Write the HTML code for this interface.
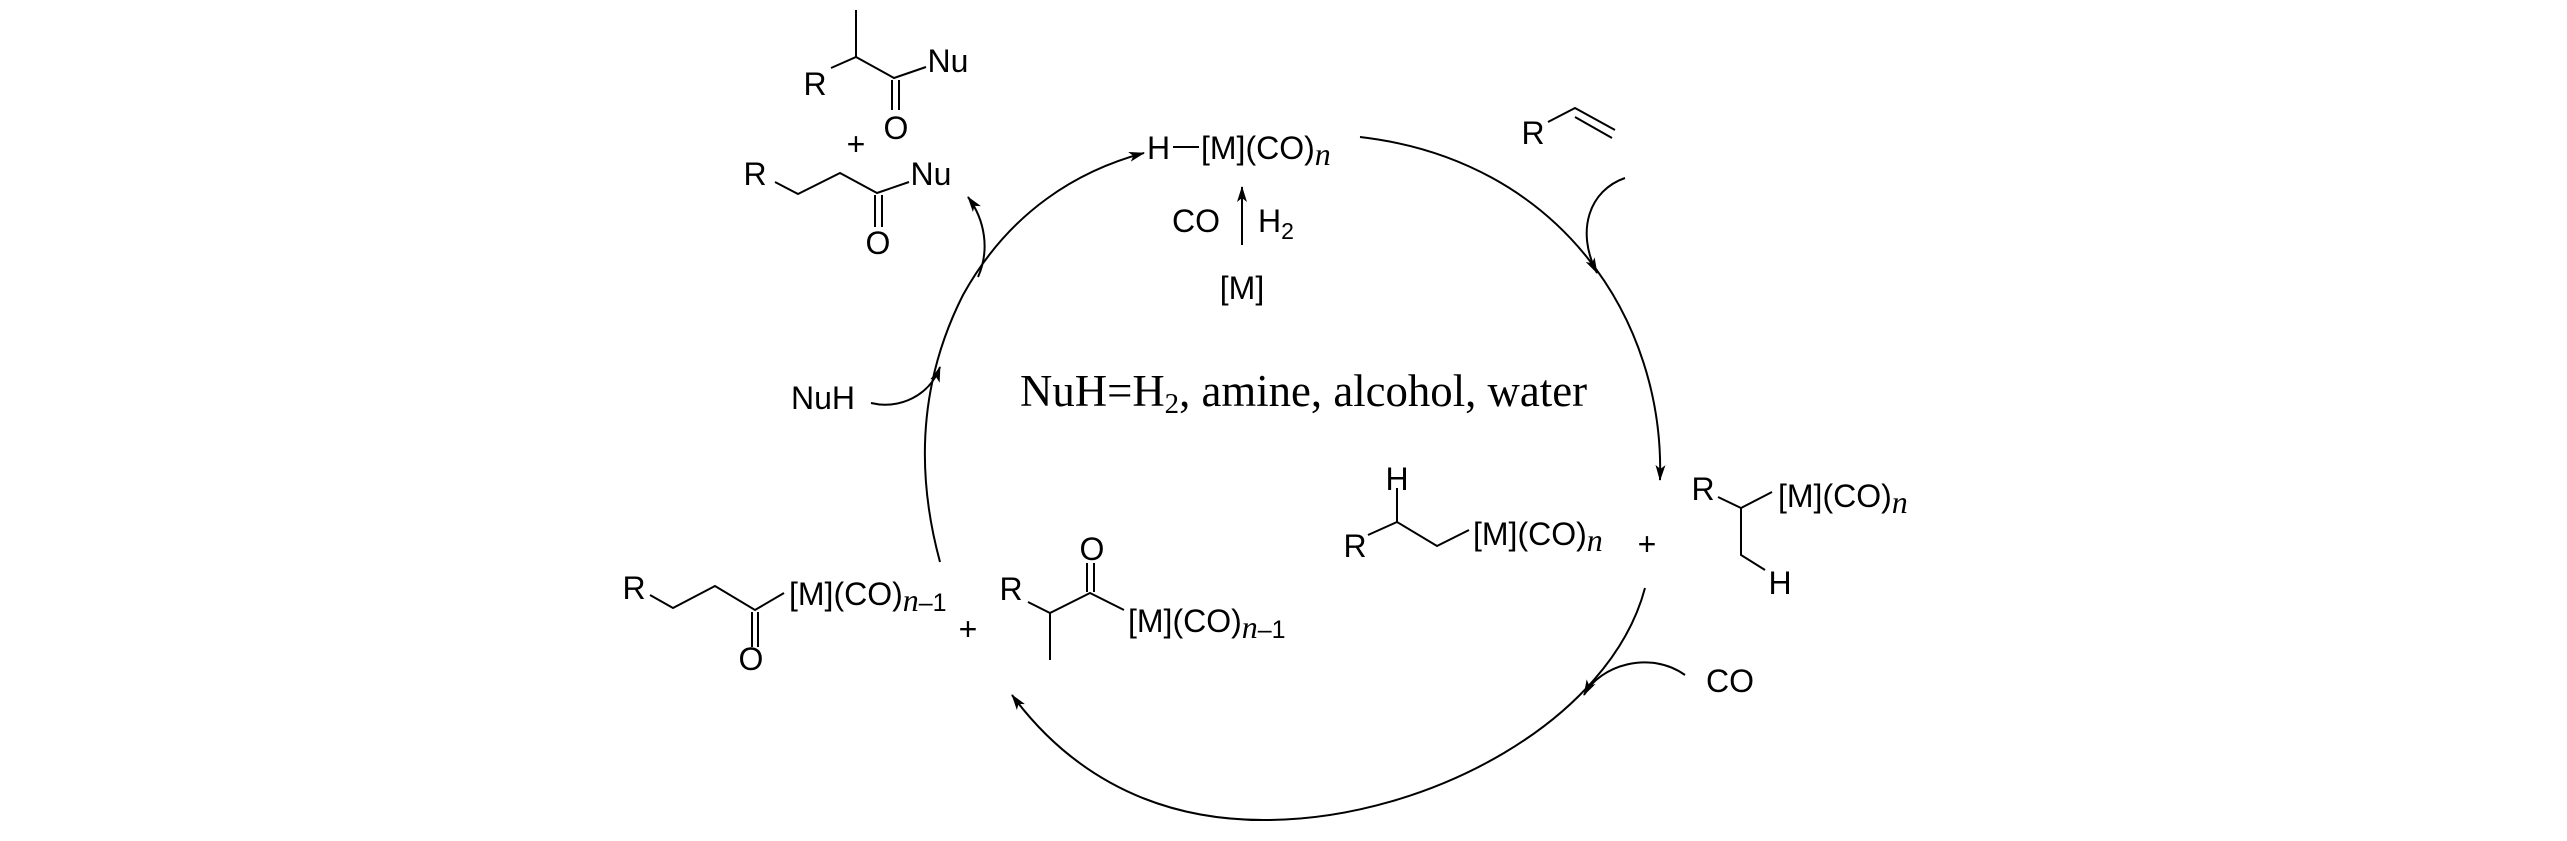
<!DOCTYPE html>
<html><head><meta charset="utf-8"><style>
html,body{margin:0;padding:0;background:#fff;}
svg{display:block;}
text{font-family:"Liberation Sans",Arial,sans-serif;font-size:32px;fill:#000;}
.t{font-family:"Liberation Serif","Times New Roman",serif;}
.i{font-family:"Liberation Serif","Times New Roman",serif;font-style:italic;}
</style></head><body>
<svg width="2567" height="841" viewBox="0 0 2567 841" xmlns="http://www.w3.org/2000/svg">
<defs>
<marker id="a" viewBox="0 0 16 10" refX="15" refY="5" markerWidth="16" markerHeight="10" markerUnits="userSpaceOnUse" orient="auto">
<path d="M0,0 L16,5 L0,10 L4,5 Z" fill="#000"/></marker>
</defs>
<g fill="none" stroke="#000" stroke-width="2">
<path d="M856,10 L856,57 M831,68 L856,57 L894,78 L926,67"/>
<path d="M892,80 L892,110 M899,80 L899,110"/>
<path d="M775,182 L798,194 L840,173 L877,193 L909,182"/>
<path d="M875,195 L875,227 M882,195 L882,227"/>
<path d="M1173,147 L1199,147"/>
<path d="M1242,245 L1242,187" marker-end="url(#a)"/>
<path d="M1548,122 L1575,108 L1615,130 M1575,117 L1612,138"/>
<path d="M1397,488 L1397,522 M1368,535 L1397,522 L1437,546 L1469,530"/>
<path d="M1718,497 L1741,508 L1772,492 M1741,508 L1741,555 L1765,570"/>
<path d="M650,595 L673,608 L715,586 L755,610 L784,593"/>
<path d="M752,612 L752,647 M758,612 L758,647"/>
<path d="M1028,602 L1050,613 L1090,593 L1124,610 M1050,613 L1050,660"/>
<path d="M1087,592 L1087,563 M1094,592 L1094,563"/>
<path d="M1360,137 C1560,160 1665,320 1660,480" marker-end="url(#a)"/>
<path d="M1645,588 C1610,720 1430,818 1270,820 C1140,822 1060,760 1012,695" marker-end="url(#a)"/>
<path d="M940,562 C915,470 920,380 963,295 C1010,210 1080,170 1144,153" marker-end="url(#a)"/>
<path d="M871,403 C900,410 930,395 940,367" marker-end="url(#a)"/>
<path d="M978,277 C990,250 985,220 968,197" marker-end="url(#a)"/>
<path d="M1685,675 C1650,650 1600,665 1584,695" marker-end="url(#a)"/>
<path d="M1625,178 C1590,190 1575,230 1597,273" marker-end="url(#a)"/>
</g>
<text x="815" y="95" text-anchor="middle">R</text>
<text x="948" y="72" text-anchor="middle">Nu</text>
<text x="896" y="139" text-anchor="middle">O</text>
<text x="856" y="155" text-anchor="middle">+</text>
<text x="755" y="185" text-anchor="middle">R</text>
<text x="931" y="185" text-anchor="middle">Nu</text>
<text x="878" y="254" text-anchor="middle">O</text>
<text x="1147" y="159">H</text>
<text x="1201" y="159">[M](CO)<tspan class="i" dy="6">n</tspan></text>
<text x="1196" y="232" text-anchor="middle">CO</text>
<text x="1258" y="232">H<tspan dy="7" font-size="23">2</tspan></text>
<text x="1242" y="299" text-anchor="middle">[M]</text>
<text x="823" y="409" text-anchor="middle">NuH</text>
<text class="t" x="1020" y="406" font-size="45" style="font-size:45px" textLength="567" lengthAdjust="spacingAndGlyphs">NuH=H<tspan dy="7" font-size="29" style="font-size:29px">2</tspan><tspan dy="-7">, amine, alcohol, water</tspan></text>
<text x="1533" y="144" text-anchor="middle">R</text>
<text x="1397" y="490" text-anchor="middle">H</text>
<text x="1355" y="557" text-anchor="middle">R</text>
<text x="1473" y="545">[M](CO)<tspan class="i" dy="6">n</tspan></text>
<text x="1647" y="555" text-anchor="middle">+</text>
<text x="1703" y="500" text-anchor="middle">R</text>
<text x="1778" y="507">[M](CO)<tspan class="i" dy="6">n</tspan></text>
<text x="1780" y="594" text-anchor="middle">H</text>
<text x="1730" y="692" text-anchor="middle">CO</text>
<text x="634" y="599" text-anchor="middle">R</text>
<text x="751" y="670" text-anchor="middle">O</text>
<text x="789" y="605">[M](CO)<tspan class="i" dy="6">n</tspan><tspan font-size="25" style="font-size:25px">–1</tspan></text>
<text x="968" y="640" text-anchor="middle">+</text>
<text x="1011" y="600" text-anchor="middle">R</text>
<text x="1092" y="560" text-anchor="middle">O</text>
<text x="1128" y="632">[M](CO)<tspan class="i" dy="6">n</tspan><tspan font-size="25" style="font-size:25px">–1</tspan></text>
</svg>
</body></html>
